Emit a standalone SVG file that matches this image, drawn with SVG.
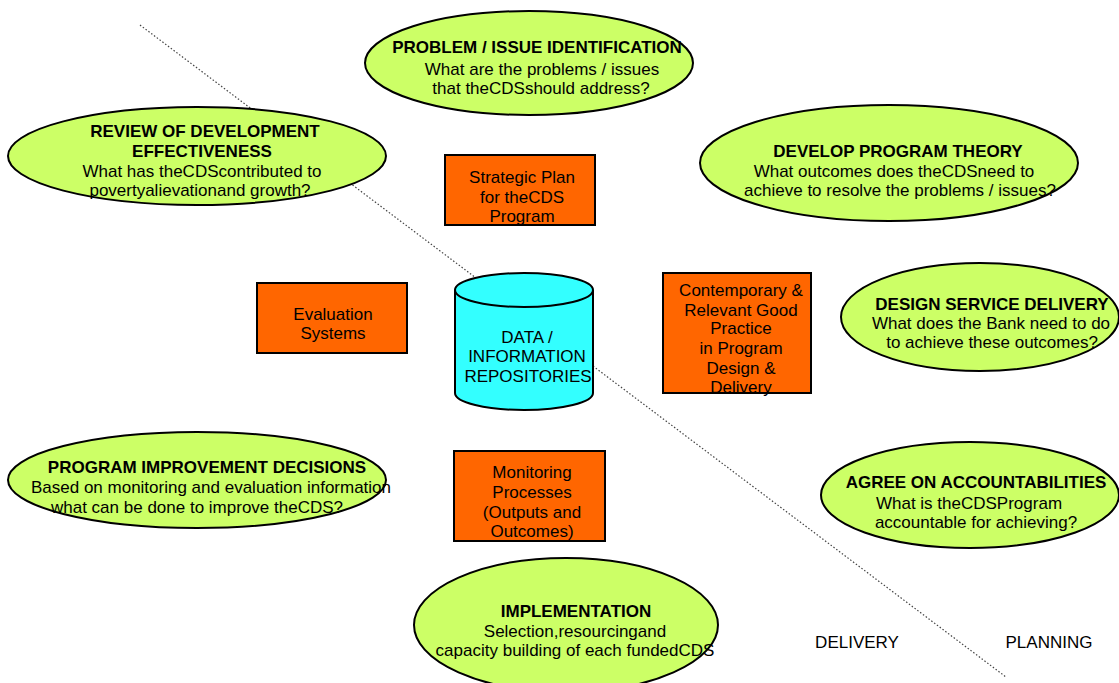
<svg xmlns="http://www.w3.org/2000/svg" width="1119" height="683" viewBox="0 0 1119 683">
<style>
.el{fill:#CCFF66;stroke:#000;stroke-width:2}
.bx{fill:#FF6600;stroke:#000;stroke-width:2}
.cy{fill:#33FFFF;stroke:#000;stroke-width:2}
text{font-family:"Liberation Sans",Arial,sans-serif;font-size:17px;fill:#000;text-anchor:middle}
.b{font-weight:bold}
.div{stroke:#444;stroke-width:1.2;stroke-dasharray:1.5 2;fill:none}
</style>
<rect width="1119" height="683" fill="#fff"/>
<g id="connectors">
<line class="div" x1="140" y1="25" x2="1006" y2="677"/>
</g>
<g id="problem">
<ellipse class="el" cx="529" cy="63" rx="164" ry="52"/>
<text class="b" x="537" y="53">PROBLEM / ISSUE IDENTIFICATION</text>
<text x="542" y="75">What are the problems / issues</text>
<text x="541" y="94">that theCDSshould address?</text>
</g>
<g id="review">
<ellipse class="el" cx="197" cy="156" rx="189" ry="49"/>
<text class="b" x="205" y="137">REVIEW OF DEVELOPMENT</text>
<text class="b" x="202" y="157">EFFECTIVENESS</text>
<text x="202" y="177">What has theCDScontributed to</text>
<text x="200" y="196">povertyalievationand growth?</text>
</g>
<g id="develop">
<ellipse class="el" cx="889" cy="163" rx="189" ry="58"/>
<text class="b" x="898" y="157">DEVELOP PROGRAM THEORY</text>
<text x="894" y="177">What outcomes does theCDSneed to</text>
<text x="900" y="196">achieve to resolve the problems / issues?</text>
</g>
<g id="design">
<ellipse class="el" cx="980" cy="317" rx="139" ry="54"/>
<text class="b" x="992" y="310">DESIGN SERVICE DELIVERY</text>
<text x="991" y="329">What does the Bank need to do</text>
<text x="992" y="348">to achieve these outcomes?</text>
</g>
<g id="agree">
<ellipse class="el" cx="970" cy="495" rx="149" ry="53"/>
<text class="b" x="976" y="488">AGREE ON ACCOUNTABILITIES</text>
<text x="969" y="509">What is theCDSProgram</text>
<text x="976" y="528">accountable for achieving?</text>
</g>
<g id="implementation">
<ellipse class="el" cx="566" cy="625" rx="152" ry="67"/>
<text class="b" x="576" y="617">IMPLEMENTATION</text>
<text x="575" y="637">Selection,resourcingand</text>
<text x="575" y="656">capacity building of each fundedCDS</text>
</g>
<g id="improvement">
<ellipse class="el" cx="197" cy="480" rx="189" ry="48"/>
<text class="b" x="207" y="473">PROGRAM IMPROVEMENT DECISIONS</text>
<text x="211" y="493">Based on monitoring and evaluation information</text>
<text x="197" y="513">what can be done to improve theCDS?</text>
</g>
<g id="strategic">
<rect class="bx" x="445" y="155" width="150" height="70"/>
<text x="522" y="183">Strategic Plan</text>
<text x="522" y="203">for theCDS</text>
<text x="522" y="222">Program</text>
</g>
<g id="evaluation">
<rect class="bx" x="257" y="283" width="150" height="70"/>
<text x="333" y="320">Evaluation</text>
<text x="333" y="339">Systems</text>
</g>
<g id="repository">
<path class="cy" d="M455,290 A69,17 0 0 1 593,290 L593,393 A69,17 0 0 1 455,393 Z"/>
<path class="cy" d="M455,290 A69,17 0 0 0 593,290"/>
<text x="527" y="343">DATA /</text>
<text x="527" y="362">INFORMATION</text>
<text x="528" y="382">REPOSITORIES</text>
</g>
<g id="goodpractice">
<rect class="bx" x="663" y="273" width="148" height="120"/>
<text x="741" y="296">Contemporary &amp;</text>
<text x="741" y="316">Relevant Good</text>
<text x="741" y="334">Practice</text>
<text x="741" y="354">in Program</text>
<text x="741" y="374">Design &amp;</text>
<text x="741" y="393">Delivery</text>
</g>
<g id="monitoring">
<rect class="bx" x="454" y="451" width="151" height="90"/>
<text x="532" y="478">Monitoring</text>
<text x="532" y="498">Processes</text>
<text x="532" y="518">(Outputs and</text>
<text x="532" y="537">Outcomes)</text>
</g>
<g id="labels">
<text x="857" y="648">DELIVERY</text>
<text x="1049" y="648">PLANNING</text>
</g>
</svg>
